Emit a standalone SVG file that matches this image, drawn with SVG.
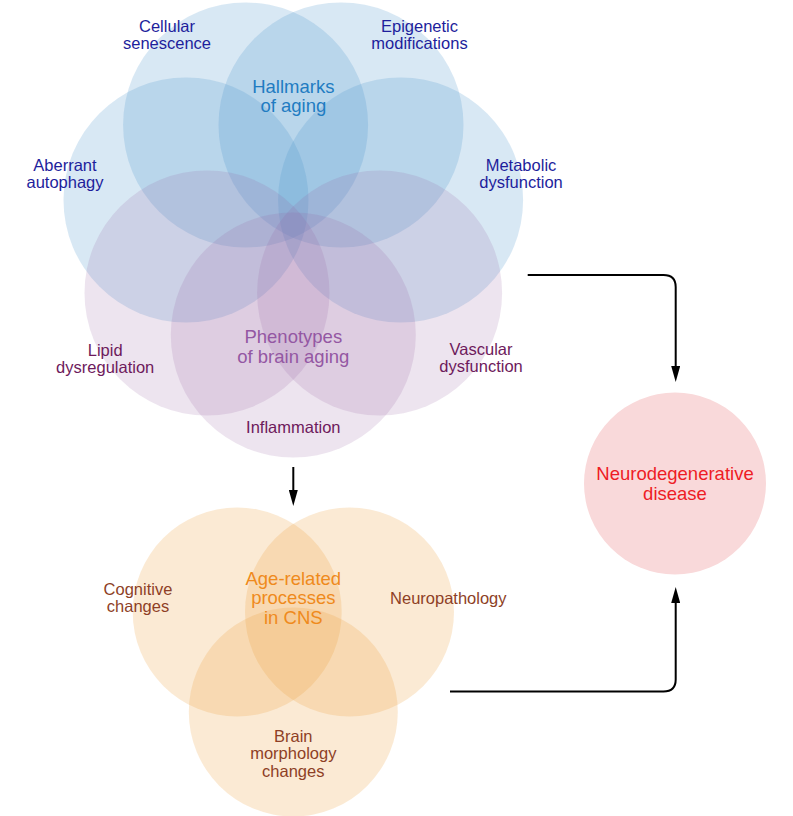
<svg xmlns="http://www.w3.org/2000/svg" width="793" height="816" viewBox="0 0 793 816">
  <style>
    text { font-family: "Liberation Sans", Arial, Helvetica, sans-serif; text-anchor: middle; }
    .lbl { font-size: 16.5px; }
    .title { font-size: 18.5px; }
    .blue { fill: rgb(70,145,205); fill-opacity: 0.21; }
    .purple { fill: rgb(150,95,160); fill-opacity: 0.17; }
    .orange { fill: rgb(235,160,60); fill-opacity: 0.22; }
    .pink { fill: #f9d9da; }
    .t-navy { fill: #1e1e9c; }
    .t-hall { fill: #1f7cc2; }
    .t-plum { fill: #6e1a5c; }
    .t-phen { fill: #9457a3; }
    .t-brown { fill: #8e3f26; }
    .t-orange { fill: #ef8a1c; }
    .t-red { fill: #ee1c25; }
    .conn { fill: none; stroke: #000; stroke-width: 2; }
  </style>
  <defs>
    <marker id="arrow" viewBox="0 0 16 9" refX="1" refY="4.5" markerWidth="16" markerHeight="9" markerUnits="userSpaceOnUse" orient="auto">
      <path d="M0,0 L16,4.5 L0,9 z" fill="#000"/>
    </marker>
  </defs>

  <!-- Hallmarks of aging (blue) -->
  <g id="cellular-senescence">
    <circle class="blue" cx="245.6" cy="125" r="122.5"/>
    <text class="lbl t-navy" x="167" y="32.3">Cellular</text>
    <text class="lbl t-navy" x="167" y="49.3">senescence</text>
  </g>
  <g id="epigenetic-modifications">
    <circle class="blue" cx="341" cy="125" r="122.5"/>
    <text class="lbl t-navy" x="419.5" y="32.3">Epigenetic</text>
    <text class="lbl t-navy" x="419.5" y="49.3">modifications</text>
  </g>
  <g id="aberrant-autophagy">
    <circle class="blue" cx="186" cy="200" r="122.5"/>
    <text class="lbl t-navy" x="65" y="170.7">Aberrant</text>
    <text class="lbl t-navy" x="65" y="188.3">autophagy</text>
  </g>
  <g id="metabolic-dysfunction">
    <circle class="blue" cx="400.6" cy="200" r="122.5"/>
    <text class="lbl t-navy" x="521" y="170.7">Metabolic</text>
    <text class="lbl t-navy" x="521" y="188.3">dysfunction</text>
  </g>

  <!-- Phenotypes of brain aging (purple) -->
  <g id="lipid-dysregulation">
    <circle class="purple" cx="207" cy="293" r="122.5"/>
    <text class="lbl t-plum" x="105.2" y="356">Lipid</text>
    <text class="lbl t-plum" x="105.2" y="372.7">dysregulation</text>
  </g>
  <g id="vascular-dysfunction">
    <circle class="purple" cx="379.6" cy="293" r="122.5"/>
    <text class="lbl t-plum" x="481" y="355.3">Vascular</text>
    <text class="lbl t-plum" x="481" y="372">dysfunction</text>
  </g>
  <g id="inflammation">
    <circle class="purple" cx="293.3" cy="335" r="122.5"/>
    <text class="lbl t-plum" x="293.3" y="433.3">Inflammation</text>
  </g>

  <g id="hallmarks-of-aging">
    <text class="title t-hall" x="293.3" y="93.3">Hallmarks</text>
    <text class="title t-hall" x="293.3" y="112.3">of aging</text>
  </g>
  <g id="phenotypes-of-brain-aging">
    <text class="title t-phen" x="293.3" y="343.3">Phenotypes</text>
    <text class="title t-phen" x="293.3" y="362.7">of brain aging</text>
  </g>

  <!-- Age-related processes in CNS (orange) -->
  <g id="cognitive-changes">
    <circle class="orange" cx="237.2" cy="612" r="104.5"/>
    <text class="lbl t-brown" x="138" y="595">Cognitive</text>
    <text class="lbl t-brown" x="138" y="612">changes</text>
  </g>
  <g id="neuropathology">
    <circle class="orange" cx="349.5" cy="612" r="104.5"/>
    <text class="lbl t-brown" x="448.3" y="604">Neuropathology</text>
  </g>
  <g id="brain-morphology-changes">
    <circle class="orange" cx="293.3" cy="712" r="104.5"/>
    <text class="lbl t-brown" x="293.3" y="742.3">Brain</text>
    <text class="lbl t-brown" x="293.3" y="759.3">morphology</text>
    <text class="lbl t-brown" x="293.3" y="776.5">changes</text>
  </g>
  <g id="age-related-processes-in-cns">
    <text class="title t-orange" x="293.3" y="584.7">Age-related</text>
    <text class="title t-orange" x="293.3" y="604.3">processes</text>
    <text class="title t-orange" x="293.3" y="624">in CNS</text>
  </g>

  <!-- Neurodegenerative disease -->
  <g id="neurodegenerative-disease">
    <circle class="pink" cx="675" cy="483.5" r="91"/>
    <text class="title t-red" x="675" y="480">Neurodegenerative</text>
    <text class="title t-red" x="675" y="499.5">disease</text>
  </g>

  <!-- Connectors -->
  <g id="connectors">
    <path class="conn" d="M293.3,467 V491" marker-end="url(#arrow)"/>
    <path class="conn" d="M527.7,275 H663.5 Q675.7,275 675.7,287 V367" marker-end="url(#arrow)"/>
    <path class="conn" d="M450,691.5 H663.5 Q675.7,691.5 675.7,679.5 V602" marker-end="url(#arrow)"/>
  </g>
</svg>
